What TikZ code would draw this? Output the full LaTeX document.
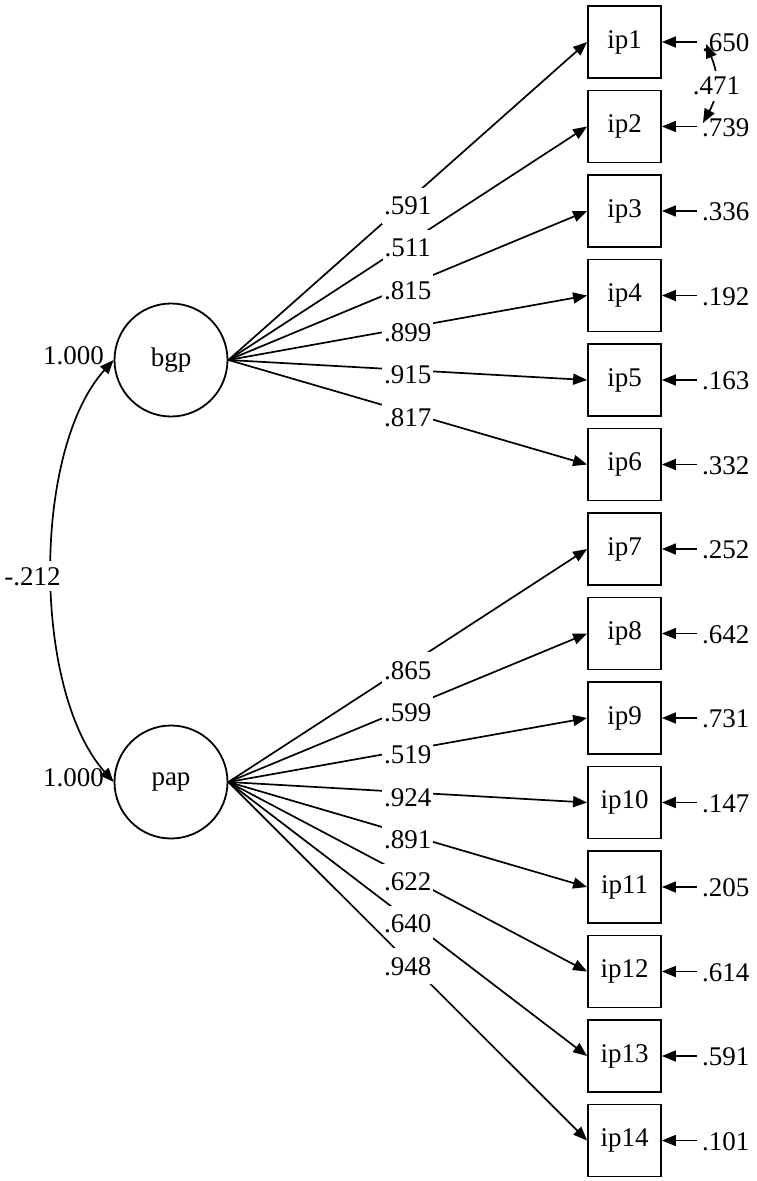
\documentclass[tikz,border=0pt]{standalone}
\usepackage{fontspec}
\setmainfont{Liberation Serif}
\usetikzlibrary{arrows.meta}
\begin{document}
\begin{tikzpicture}[x=1pt,y=-1pt,
  font=\fontsize{27}{32}\selectfont,
  obs/.style={draw,line width=1.8pt,minimum width=73pt,minimum height=72pt,inner sep=0pt},
  lat/.style={draw,circle,line width=1.8pt,minimum size=113pt,inner sep=0pt},
  arr/.style={line width=1.7pt,-{Triangle[length=14pt,width=11pt]}},
  darr/.style={line width=1.7pt,{Triangle[length=14pt,width=11pt]}-{Triangle[length=14pt,width=11pt]}},
  lbl/.style={fill=white,inner xsep=2pt,inner ysep=9pt}]
\useasboundingbox (0,0) rectangle (757,1181);
\node[lat] (bgp) at (171,360) {bgp};
\node[lat] (pap) at (171,782) {pap};
\foreach \i/\v in {1/.650,2/.739,3/.336,4/.192,5/.163,6/.332,7/.252,8/.642,9/.731,10/.147,11/.205,12/.614,13/.591,14/.101}{
  \node[obs] (ip\i) at (624.5,{42+(\i-1)*84.5}) {ip\i};
  \coordinate (e\i) at (697,{42+(\i-1)*84.5});
  \draw[arr] (e\i) -- (ip\i.east);
  \node[anchor=west,inner sep=0pt] (v\i) at (702,{43+(\i-1)*84.5}) {\v};
}
\foreach \i/\w in {1/.591,2/.511,3/.815,4/.899,5/.915,6/.817}{
  \draw[arr] (bgp.east) -- node[lbl,yshift=-5pt] {\w} (ip\i.west);
}
\foreach \i/\w in {7/.865,8/.599,9/.519,10/.924,11/.891,12/.622,13/.640,14/.948}{
  \draw[arr] (pap.east) -- node[lbl,yshift=-5pt] {\w} (ip\i.west);
}
\coordinate (r1) at (706,44);
\coordinate (r2) at (703,123);
\draw[darr] (r1) .. controls (720,78) and (718,95) .. node[lbl,inner ysep=6pt,xshift=1pt] {.471} (r2);
\draw[darr] (bgp.west) .. controls (32,450) and (32,690) .. node[lbl,inner ysep=6pt,xshift=-20pt,yshift=-6pt] {-.212} (pap.west);
\node[anchor=east,inner sep=0pt] (vb) at (104,356) {1.000};
\node[anchor=east,inner sep=0pt] (vp) at (104,778) {1.000};
\end{tikzpicture}
\end{document}
